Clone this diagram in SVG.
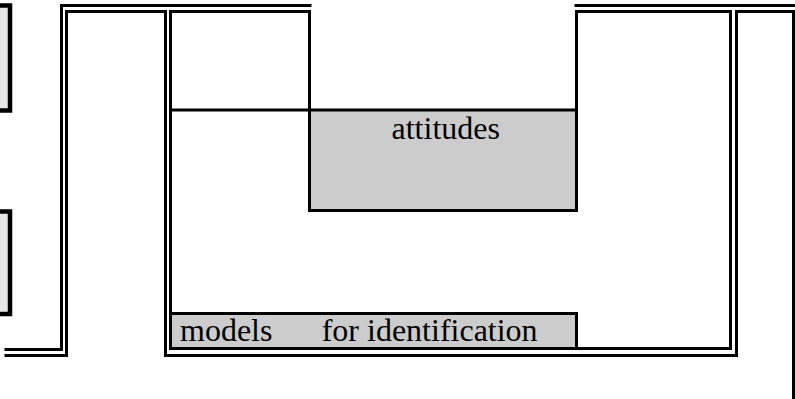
<svg xmlns="http://www.w3.org/2000/svg" width="795" height="399" viewBox="0 0 795 399">
<style>
.ln{fill:none;stroke:#000;stroke-width:3;stroke-linecap:square;stroke-linejoin:miter}
.side{fill:#e6e6e6;stroke:#000;stroke-width:4.5}
.cell{fill:#cccccc;stroke:#000;stroke-width:3}
.t{font-family:"Liberation Serif","Times New Roman",serif;font-size:32px;fill:#000}
</style>
<rect width="795" height="399" fill="#fff"/>
<g id="side-box-1"><rect class="side" x="-10" y="5.5" width="20" height="105"/></g>
<g id="side-box-2"><rect class="side" x="-10" y="211.5" width="20" height="102.5"/></g>
<g id="connectors">
<path class="ln" d="M6 349.5 H61.5 V5.5 H310"/>
<path class="ln" d="M576 5.5 H795"/>
<path class="ln" d="M6 355.5 H66.5 V11.5 H165.5 V355.5 H736.5 V11.5 H793.5 V400"/>
<path class="ln" d="M170.5 348.5 V11.5 H309.5 V110 H170.5"/>
<path class="ln" d="M576.5 110 V11.5 H730.5 V348.5 H170.5"/>
</g>
<g id="attitudes">
<rect class="cell" x="309.5" y="110" width="267" height="100.5"/>
<text class="t" x="391.5" y="138.5">attitudes</text>
</g>
<g id="models">
<rect class="cell" x="170.5" y="313.5" width="406" height="35"/>
<text class="t" x="180" y="340.5">models</text>
<text class="t" x="321.7" y="340.5">for identification</text>
</g>
</svg>
